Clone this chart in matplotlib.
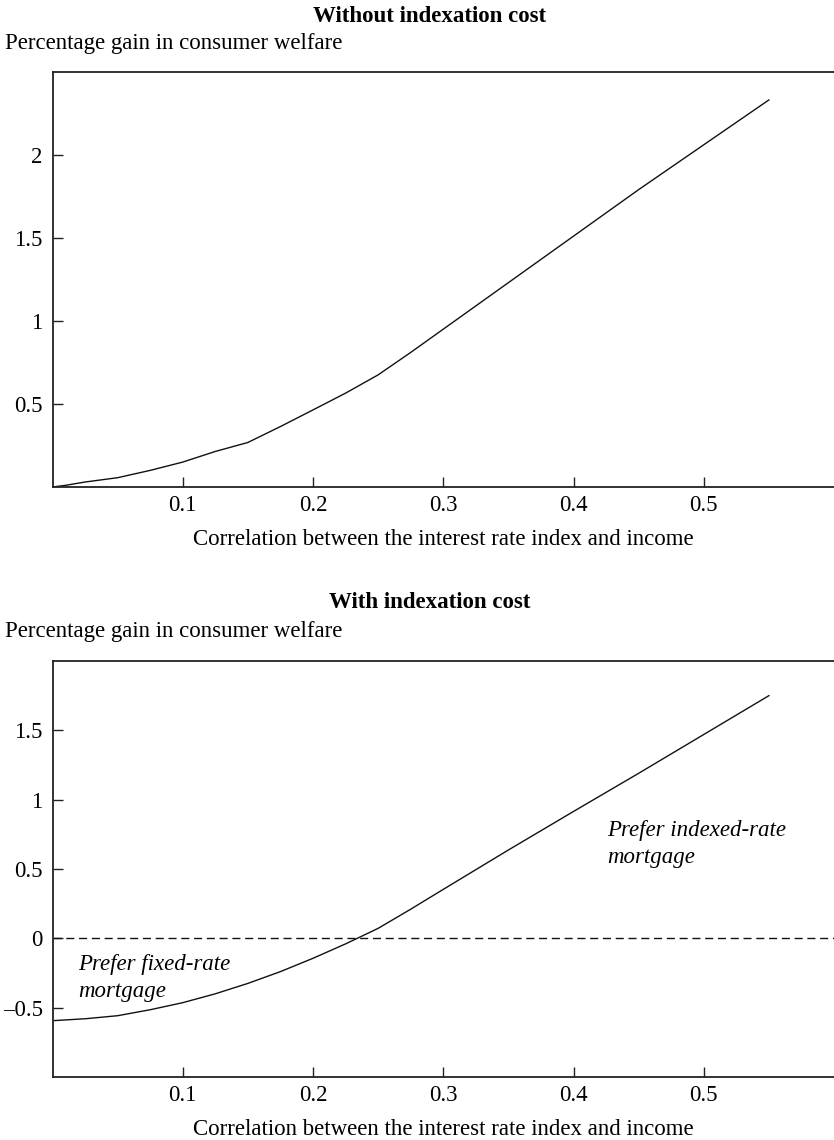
import matplotlib
matplotlib.use("Agg")
import matplotlib.pyplot as plt

plt.rcParams["font.family"] = ["Liberation Serif", "DejaVu Serif"]

# Correlation between the interest rate index and income
corr_no_cost = [0.0, 0.01, 0.025, 0.05, 0.075, 0.1, 0.125, 0.15, 0.175, 0.2,
                0.225, 0.25, 0.275, 0.3, 0.35, 0.4, 0.45, 0.5, 0.55]
gain_no_cost = [0.0, 0.01, 0.03, 0.056, 0.1, 0.15, 0.214, 0.268, 0.364, 0.464,
                0.565, 0.675, 0.81, 0.95, 1.23, 1.51, 1.79, 2.06, 2.33]

corr_cost = [0.0, 0.025, 0.05, 0.075, 0.1, 0.125, 0.15, 0.175, 0.2, 0.225,
             0.234, 0.25, 0.275, 0.3, 0.35, 0.4, 0.45, 0.5, 0.55]
gain_cost = [-0.594, -0.58, -0.558, -0.515, -0.464, -0.4, -0.325, -0.24, -0.144,
             -0.04, 0.0, 0.072, 0.21, 0.353, 0.637, 0.915, 1.19, 1.47, 1.75]

xticks = [0.1, 0.2, 0.3, 0.4, 0.5]
xtick_labels = ["0.1", "0.2", "0.3", "0.4", "0.5"]
yticks_top = [0.5, 1, 1.5, 2]
ytick_labels_top = ["0.5", "1", "1.5", "2"]
yticks_bottom = [-0.5, 0, 0.5, 1, 1.5]
ytick_labels_bottom = ["\u20130.5", "0", "0.5", "1", "1.5"]

W, H = 834, 1140
fig = plt.figure(figsize=(W / 100, H / 100), dpi=100)

FS = 16.5
left_px, right_px = 52.5, 834.0


def make_axes(top_px, bottom_px):
    return fig.add_axes([left_px / W, 1 - bottom_px / H,
                         (right_px - left_px) / W, (bottom_px - top_px) / H])


def style(ax):
    for side in ("left", "bottom", "top"):
        ax.spines[side].set_linewidth(1.3)
        ax.spines[side].set_color("#222222")
    ax.spines["right"].set_visible(False)
    ax.tick_params(direction="in", length=7, width=1.0, color="#222222",
                   labelsize=FS, top=False, right=False)
    ax.tick_params(axis="x", pad=6)
    ax.tick_params(axis="y", pad=7)
    ax.set_xlim(0, 0.6)
    ax.set_xticks(xticks)
    ax.set_xticklabels(xtick_labels)
    ax.set_xlabel("Correlation between the interest rate index and income",
                  fontsize=FS, labelpad=9)


# Upper panel: without indexation cost
ax1 = make_axes(71.7, 487.0)
style(ax1)
ax1.plot(corr_no_cost, gain_no_cost, color="#111111", lw=1.0)
ax1.set_ylim(0, 2.5)
ax1.set_yticks(yticks_top)
ax1.set_yticklabels(ytick_labels_top)

fig.text(430 / W, 1 - 17 / H, "Without indexation cost", ha="center",
         va="center", fontsize=FS, fontweight="bold")
fig.text(5 / W, 1 - 43 / H, "Percentage gain in consumer welfare",
         ha="left", va="center", fontsize=FS)

# Lower panel: with indexation cost
ax2 = make_axes(661.0, 1077.0)
style(ax2)
ax2.axhline(0, color="#111111", lw=1.0, ls=(0, (5.8, 3.4)))
ax2.plot(corr_cost, gain_cost, color="#111111", lw=1.0)
ax2.set_ylim(-1.0, 2.0)
ax2.set_yticks(yticks_bottom)
ax2.set_yticklabels(ytick_labels_bottom)

ax2.text(0.426, 0.78, "Prefer indexed-rate", fontsize=FS, style="italic",
         ha="left", va="center")
ax2.text(0.426, 0.584, "mortgage", fontsize=FS, style="italic",
         ha="left", va="center")
ax2.text(0.02, -0.1875, "Prefer fixed-rate", fontsize=FS, style="italic",
         ha="left", va="center")
ax2.text(0.02, -0.385, "mortgage", fontsize=FS, style="italic",
         ha="left", va="center")

fig.text(430 / W, 1 - 603 / H, "With indexation cost", ha="center",
         va="center", fontsize=FS, fontweight="bold")
fig.text(5 / W, 1 - 631 / H, "Percentage gain in consumer welfare",
         ha="left", va="center", fontsize=FS)

fig.savefig("out.png", dpi=100)
